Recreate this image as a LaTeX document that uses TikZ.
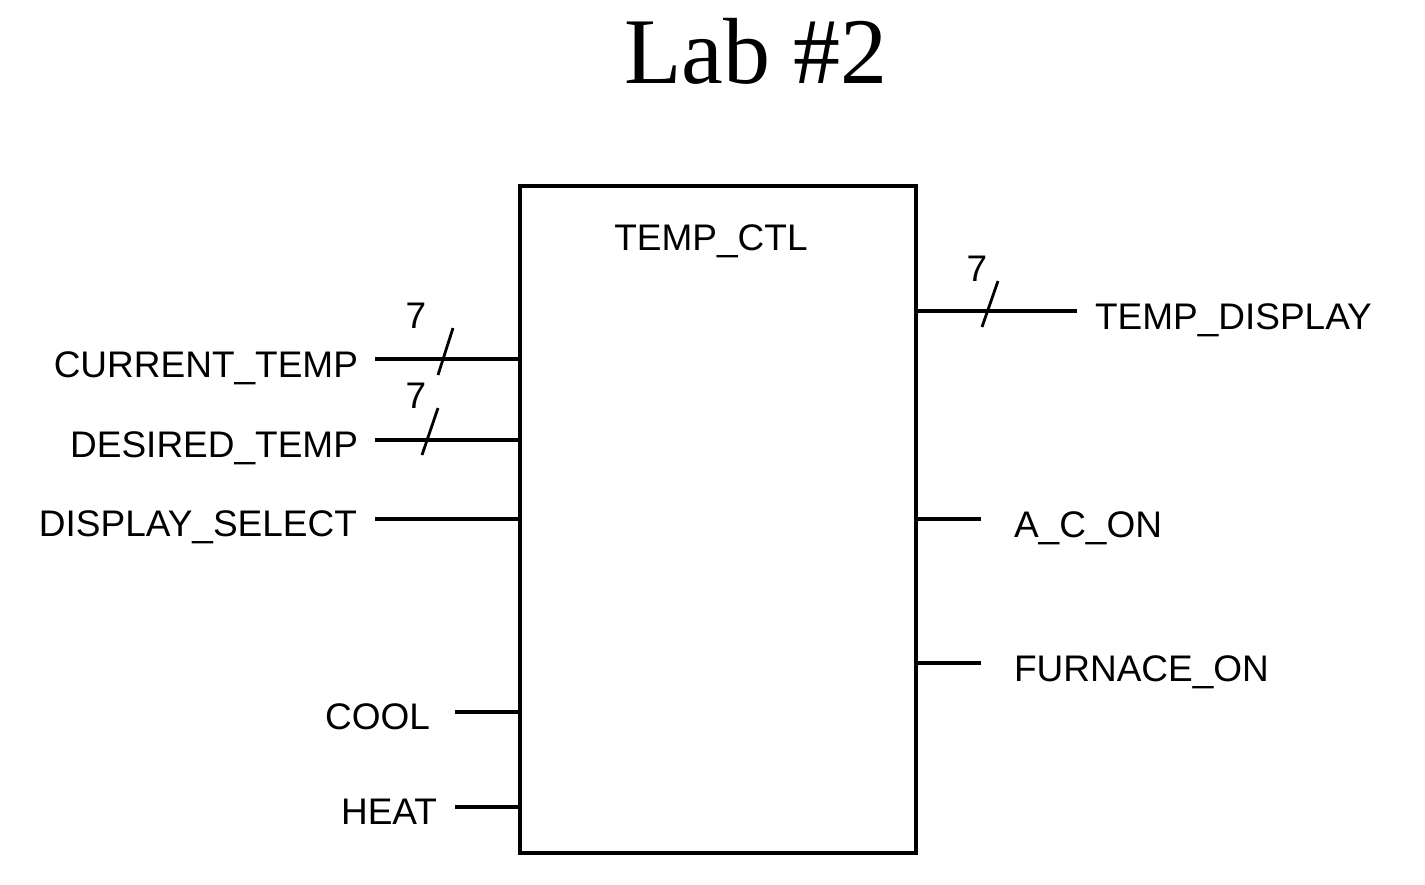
\documentclass[tikz,border=0pt]{standalone}
\usepackage{fontspec}
\setmainfont{Liberation Serif}
\newfontfamily\labsans{Liberation Sans}
\begin{document}
\begin{tikzpicture}[x=1pt,y=-1pt,
  sig/.style={font=\labsans\fontsize{37}{41}\selectfont, inner sep=0pt, outer sep=0pt},
  wire/.style={line width=4.2pt},
  busmark/.style={line width=2.8pt},
  blk/.style={draw, line width=4.2pt, minimum width=396pt, minimum height=667pt, inner sep=0pt, outer sep=0pt}]
\useasboundingbox (0,0) rectangle (1425,884);
% title
\node[font=\fontsize{94}{100}\selectfont, inner sep=0pt, anchor=base] (title) at (756,83) {Lab \#2};
% block
\node[blk] (box) at (718,519.5) {};
\node[sig, anchor=base] (name) at (711,250) {TEMP\_CTL};
% left inputs
\coordinate (ct) at (375,359);
\coordinate (dt) at (375,440);
\coordinate (ds) at (375,519);
\coordinate (co) at (455,712);
\coordinate (he) at (455,807);
\draw[wire] (ct) -- (ct -| box.west);
\draw[wire] (dt) -- (dt -| box.west);
\draw[wire] (ds) -- (ds -| box.west);
\draw[wire] (co) -- (co -| box.west);
\draw[wire] (he) -- (he -| box.west);
\node[sig, anchor=base east] (lct) at (358,377) {CURRENT\_TEMP};
\node[sig, anchor=base east] (ldt) at (358,457) {DESIRED\_TEMP};
\node[sig, anchor=base east] (lds) at (357,536) {DISPLAY\_SELECT};
\node[sig, anchor=base east] (lco) at (430,729) {COOL};
\node[sig, anchor=base east] (lhe) at (437,824) {HEAT};
% right outputs
\coordinate (td) at (1077,311);
\coordinate (ac) at (981,519);
\coordinate (fu) at (981,663);
\draw[wire] (td -| box.east) -- (td);
\draw[wire] (ac -| box.east) -- (ac);
\draw[wire] (fu -| box.east) -- (fu);
\node[sig, anchor=base west] (ltd) at (1095,329) {TEMP\_DISPLAY};
\node[sig, anchor=base west] (lac) at (1014,537) {A\_C\_ON};
\node[sig, anchor=base west] (lfu) at (1014,681) {FURNACE\_ON};
% bus width marks
\coordinate (s1) at (445.5,351.5);
\coordinate (s2) at (430,431.5);
\coordinate (s3) at (990,304);
\draw[busmark] (s1) ++(7.5,-23.5) -- ++(-15,47);
\draw[busmark] (s2) ++(8,-23.5) -- ++(-16,47);
\draw[busmark] (s3) ++(8,-23) -- ++(-16,46);
\node[sig, anchor=base] (n1) at (416,328) {7};
\node[sig, anchor=base] (n2) at (416,408) {7};
\node[sig, anchor=base] (n3) at (977,281) {7};
\end{tikzpicture}
\end{document}
